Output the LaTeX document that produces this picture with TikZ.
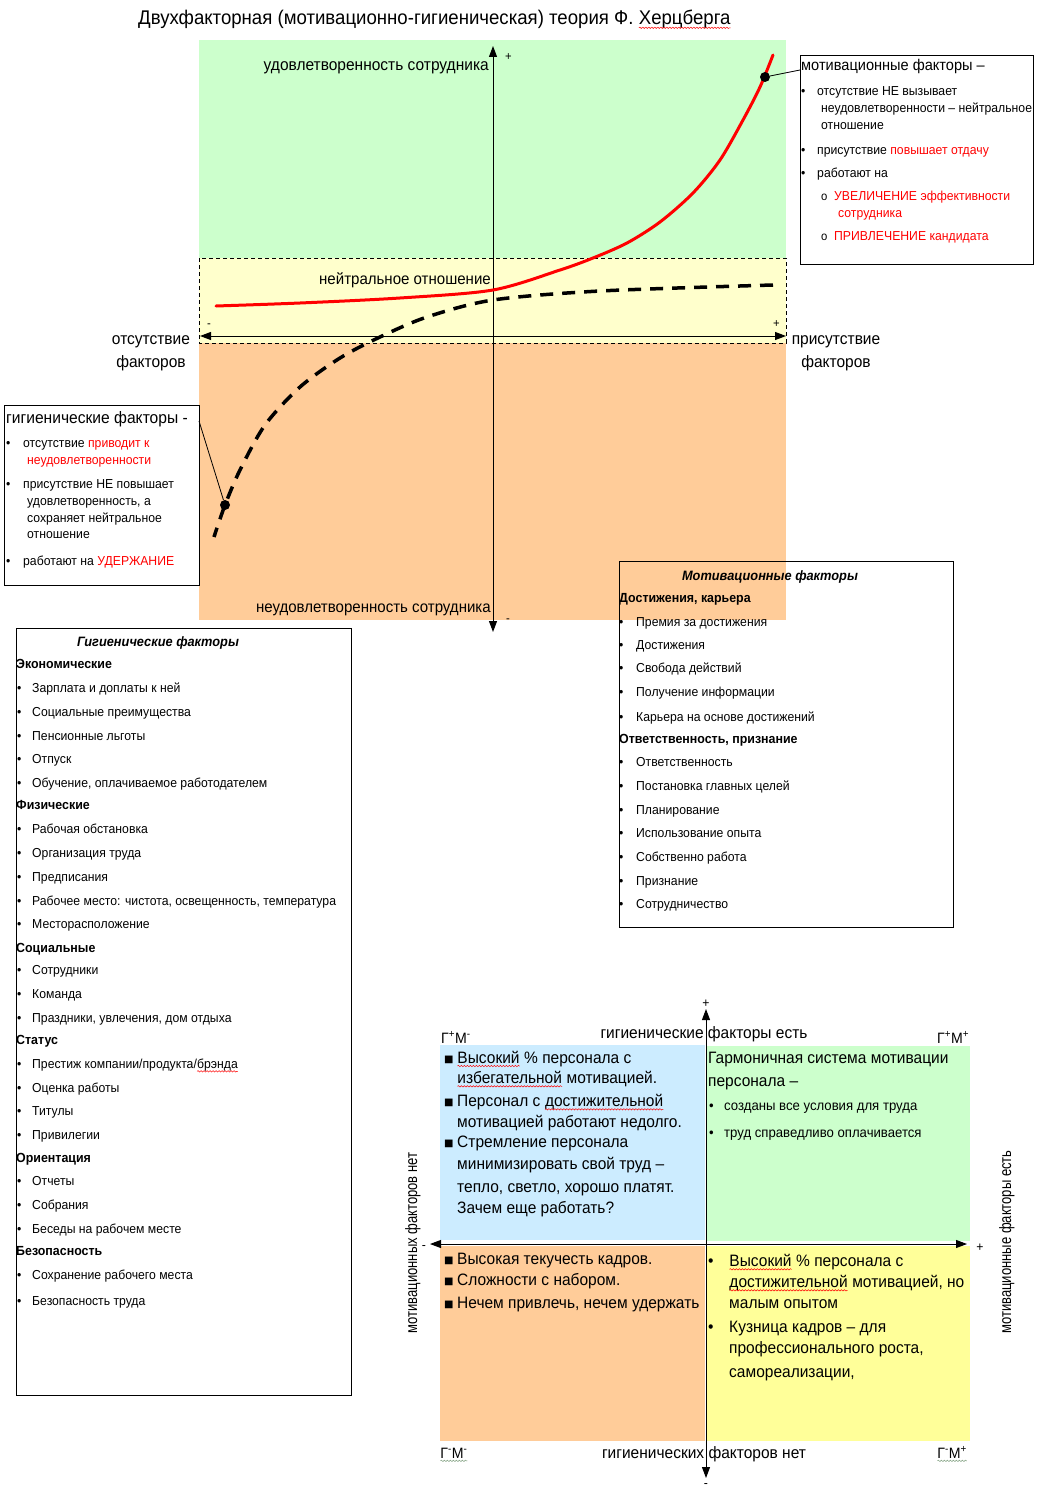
\documentclass[tikz,border=0pt]{standalone}
\usepackage{fontspec}
\setmainfont[FakeStretch=0.94]{Liberation Sans}
\newfontfamily\symf{DejaVu Sans}
\usetikzlibrary{arrows.meta,decorations.pathmorphing}
\definecolor{cgreen}{HTML}{CCFFCC}
\definecolor{cyellow}{HTML}{FFFFCC}
\definecolor{corange}{HTML}{FFCC99}
\definecolor{cblue}{HTML}{CCECFF}
\definecolor{cyel}{HTML}{FFFF99}
\definecolor{wavegray}{HTML}{7F9F7F}
\newcommand\wavyword[2]{\tikz[baseline=(w.base)]{\node[inner sep=0, outer sep=0, anchor=base west] (w) at (0,0) {#2}; \draw[#1, line width=0.5pt, decorate, decoration={snake, amplitude=0.7pt, segment length=3pt}] ([yshift=-2.8pt]w.base west) -- ([yshift=-2.8pt]w.base east);}}
\newcommand\rwave[1]{\wavyword{red}{#1}}
\newcommand\gwave[1]{\wavyword{wavegray}{#1}}
\tikzset{
  tx/.style={inner sep=0, anchor=base west, font=\fontsize{#1}{#1}\selectfont},
  tx/.default=13,
  txc/.style={inner sep=0, anchor=base, font=\fontsize{#1}{#1}\selectfont},
  txc/.default=16,
  txe/.style={inner sep=0, anchor=base east, font=\fontsize{#1}{#1}\selectfont},
  txe/.default=16,
  axis/.style={line width=1pt, arrows={Triangle[length=11pt,width=8pt]-Triangle[length=11pt,width=8pt]}},
  boxx/.style={draw, line width=0.8pt, inner sep=0, anchor=north west},
  dot/.style={circle, fill=black, inner sep=0, minimum size=10pt},
  hd/.style={inner sep=0, anchor=base west, font=\fontsize{13.2}{13.2}\selectfont\bfseries},
  lt/.style={inner sep=0, anchor=base, font=\fontsize{13.6}{13.6}\selectfont\bfseries\itshape},
}
\begin{document}
\begin{tikzpicture}[x=1pt,y=-1pt]
\useasboundingbox[fill=white] (0,0) rectangle (1037,1493);

% ---------- title
\node[tx=19.8] (title) at (138,25) {Двухфакторная (мотивационно-гигиеническая) теория Ф. \rwave{Херцберга}};

% ---------- top chart backgrounds
\fill[cgreen] (199,40) rectangle (786,258);
\fill[cyellow] (199,258) rectangle (786,343);
\fill[corange] (199,343) rectangle (786,620);
\draw[dashed, dash pattern=on 4pt off 3pt, line width=0.8pt] (199,258) rectangle (786,343);

% axes
\coordinate (vt) at (493,46);
\coordinate (vb) at (493,632);
\coordinate (hl) at (200,336);
\coordinate (hr) at (786,336);
\draw[axis] (vt) -- (vb);
\draw[axis] (hl) -- (hr);
\node[tx=12] (p1) at (505,61) {+};
\node[tx=12] (m1) at (506,622) {-};
\node[tx=12] (m2) at (207,327) {-};
\node[tx=12] (p2) at (773,327) {+};

\node[txe=16.5] (sat) at (489,71) {удовлетворенность сотрудника};
\node[txe] (neu) at (491,284) {нейтральное отношение};
\node[txe] (dis) at (491,612) {неудовлетворенность сотрудника};
\node[txc=16.5] (ab1) at (151,344) {отсутствие};
\node[txc=16.5] (ab2) at (151,367) {факторов};
\node[txc=16.5] (pr1) at (836,344) {присутствие};
\node[txc=16.5] (pr2) at (836,367) {факторов};

% curves
\draw[red, line width=3pt, line cap=round] plot[smooth] coordinates {(216,306) (300,303) (400,298) (493,290) (560,270) (593,258) (627,243) (660,222) (693,193) (720,160) (743,120) (760,87) (773,55)};
\draw[black, line width=3.5pt, dash pattern=on 13pt off 9pt] plot[smooth] coordinates {(773,285) (600,291) (493,300) (427,317) (380,337) (340,358) (300,387) (265,425) (240,470) (225,505) (214,537)};

\node[dot] (d1) at (765,77) {};
\node[dot] (d2) at (225,505) {};

% ---------- motivational small box
\node[boxx, minimum width=233pt, minimum height=209pt] (mbox) at (800,55) {};
\coordinate (mc) at (800,70);
\draw[line width=0.8pt] (d1) -- (mc);
\node[tx=15.5] (mt) at (801,71) {мотивационные факторы –};
\node[tx] (mb1) at (801,96) {•};
\node[tx] (mb2) at (801,154) {•};
\node[tx] (mb3) at (801,177) {•};
\node[tx] (ml1) at (817,96) {отсутствие НЕ вызывает};
\node[tx] (ml2) at (821,113) {неудовлетворенности – нейтральное};
\node[tx] (ml3) at (821,129) {отношение};
\node[tx] (ml4) at (817,154) {присутствие \textcolor{red}{повышает отдачу}};
\node[tx] (ml5) at (817,177) {работают на};
\node[tx=12] (mo1) at (821,200) {o};
\node[tx=12] (mo2) at (821,240) {o};
\node[tx, text=red] (ml6) at (834,200) {УВЕЛИЧЕНИЕ эффективности};
\node[tx, text=red] (ml7) at (838,217) {сотрудника};
\node[tx, text=red] (ml8) at (834,240) {ПРИВЛЕЧЕНИЕ кандидата};

% ---------- hygiene small box
\node[boxx, minimum width=195pt, minimum height=180pt] (gbox) at (4,405) {};
\coordinate (gc) at (199,421);
\draw[line width=0.8pt] (gc) -- (d2);
\node[tx=16.6] (gt) at (6,423) {гигиенические факторы -};
\node[tx] (gb1) at (6,447) {•};
\node[tx] (gb2) at (6,488) {•};
\node[tx] (gb3) at (6,565) {•};
\node[tx] (gl1) at (23,447) {отсутствие \textcolor{red}{приводит к}};
\node[tx, text=red] (gl2) at (27,464) {неудовлетворенности};
\node[tx] (gl3) at (23,488) {присутствие НЕ повышает};
\node[tx] (gl4) at (27,505) {удовлетворенность, а};
\node[tx] (gl5) at (27,522) {сохраняет нейтральное};
\node[tx] (gl6) at (27,538) {отношение};
\node[tx] (gl7) at (23,565) {работают на \textcolor{red}{УДЕРЖАНИЕ}};

% ---------- motivational factors list
\node[boxx, minimum width=334pt, minimum height=366pt] (mlist) at (619,561) {};
\node[lt] (mlt) at (770,580) {Мотивационные факторы};
\node[hd] (mh1) at (619,602) {Достижения, карьера};
\node[hd] (mh2) at (619,743) {Ответственность, признание};
\foreach \yy/\txt [count=\i] in {621.7/Премия за достижения, 645/Достижения, 668/Свобода действий, 692/Получение информации, 716.7/Карьера на основе достижений, 762/Ответственность, 785.7/Постановка главных целей, 810/Планирование, 833/Использование опыта, 857/Собственно работа, 880.7/Признание, 904/Сотрудничество}{
  \node[tx] (mlb\i) at (619,\yy+4.5) {•};
  \node[tx] (mli\i) at (636,\yy+4.5) {\txt};
}

% ---------- hygiene factors list
\node[boxx, minimum width=335pt, minimum height=767pt] (hlist) at (16,628) {};
\node[lt] (hlt) at (158,646) {Гигиенические факторы};
\foreach \yy/\txt [count=\i] in {664/Экономические, 805/Физические, 948/Социальные, 1040/Статус, 1158/Ориентация, 1251/Безопасность}{
  \node[hd] (hh\i) at (16,\yy+4.5) {\txt};
}
\foreach \yy/\txt [count=\i] in {688/Зарплата и доплаты к ней, 712/Социальные преимущества, 736/Пенсионные льготы, 759/Отпуск, 783/{Обучение, оплачиваемое работодателем}, 829/Рабочая обстановка, 853/Организация труда, 877/Предписания, 901/{Рабочее место: чистота, освещенность, температура}, 924/Месторасположение, 970/Сотрудники, 994/Команда, 1018/{Праздники, увлечения, дом отдыха}, 1064/{Престиж компании/продукта/\rwave{брэнда}}, 1088/Оценка работы, 1111/Титулы, 1135/Привилегии, 1181/Отчеты, 1205/Собрания, 1229/Беседы на рабочем месте, 1275/Сохранение рабочего места, 1301/Безопасность труда}{
  \node[tx] (hlb\i) at (17,\yy+4.5) {•};
  \node[tx] (hli\i) at (32,\yy+4.5) {\txt};
}

% ---------- bottom matrix
\fill[cblue] (440,1045) rectangle (705,1240);
\fill[cgreen] (707,1046) rectangle (970,1241);
\fill[corange] (440,1246) rectangle (705,1441);
\fill[cyel] (707,1246) rectangle (970,1441);
\coordinate (bvt) at (706,1009);
\coordinate (bvb) at (706,1478);
\coordinate (bhl) at (430,1244);
\coordinate (bhr) at (967,1244);
\draw[axis] (bvt) -- (bvb);
\draw[axis] (bhl) -- (bhr);
\node[txc=13] (bp1) at (706,1007) {+};
\node[txc=13] (bm1) at (706,1487) {-};
\node[txc=13] (bm2) at (424,1249) {-};
\node[txc=13] (bp2) at (980,1251) {+};

\node[txc=16.5] (gyes) at (704,1038) {гигиенические факторы есть};
\node[txc=16.5] (gno) at (704,1458) {гигиенических факторов нет};
\node[txc=16.5, rotate=90] (mno) at (417,1243) {\scalebox{0.84}[1]{мотивационных факторов нет}};
\node[txc=16.5, rotate=90] (myes) at (1011,1242) {\scalebox{0.84}[1]{мотивационные факторы есть}};
\node[tx=15] (q1) at (441,1043) {Г\textsuperscript{+}М\textsuperscript{-}};
\node[tx=15] (q2) at (937,1043) {Г\textsuperscript{+}М\textsuperscript{+}};
\node[tx=15] (q3) at (440,1458) {\gwave{Г\textsuperscript{-}М\textsuperscript{-}}};
\node[tx=15] (q4) at (937,1458) {\gwave{Г\textsuperscript{-}М\textsuperscript{+}}};

% blue quadrant
\foreach \yy [count=\i] in {1057.7,1101,1142}{
  \node[tx=10, font=\symf\fontsize{10}{10}\selectfont] (bqs\i) at (444,\yy+4.5) {■};
}
\foreach \yy/\txt [count=\i] in {1057.7/\rwave{Высокий} \% персонала с, 1078/\rwave{избегательной} мотивацией., 1101/Персонал с \rwave{достижительной}, 1121.7/мотивацией работают недолго., 1142/Стремление персонала, 1164/минимизировать свой труд –, 1186.7/{тепло, светло, хорошо платят.}, 1208/Зачем еще работать?}{
  \node[tx=16.5] (bq\i) at (457,\yy+5.5) {\txt};
}
% green quadrant
\node[tx=16.5] (gq1) at (708,1063.5) {Гармоничная система мотивации};
\node[tx=16.5] (gq2) at (708,1086.5) {персонала –};
\node[tx=14] (gqb1) at (709,1110) {•};
\node[tx=14] (gqb2) at (709,1137) {•};
\node[tx=14] (gq3) at (724,1110) {созданы все условия для труда};
\node[tx=14] (gq4) at (724,1137) {труд справедливо оплачивается};
% orange quadrant
\foreach \yy [count=\i] in {1259,1280,1303}{
  \node[tx=10, font=\symf\fontsize{10}{10}\selectfont] (oqs\i) at (444,\yy+4.5) {■};
}
\node[tx=16.5] (oq1) at (457,1264.5) {Высокая текучесть кадров.};
\node[tx=16.5] (oq2) at (457,1285.5) {Сложности с набором.};
\node[tx=16.5] (oq3) at (457,1308.5) {Нечем привлечь, нечем удержать};
% yellow quadrant
\node[tx=16.5] (yqb1) at (708,1266.5) {•};
\node[tx=16.5] (yqb2) at (708,1332.5) {•};
\foreach \yy/\txt [count=\i] in {1261/\rwave{Высокий} \% персонала с, 1282/{\rwave{достижительной} мотивацией, но}, 1303/малым опытом, 1327/Кузница кадров – для, 1348/{профессионального роста,}, 1372/{самореализации,}}{
  \node[tx=16.5] (yq\i) at (729,\yy+5.5) {\txt};
}
\end{tikzpicture}
\end{document}
